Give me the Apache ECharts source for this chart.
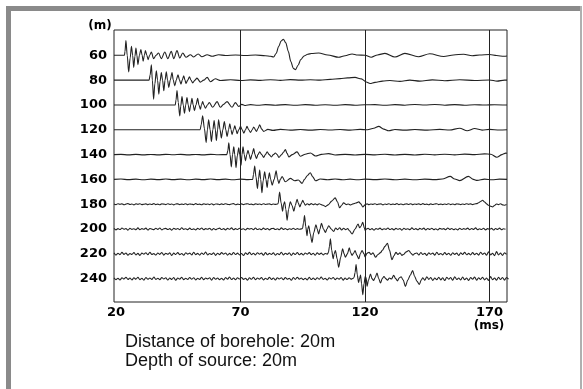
<!DOCTYPE html>
<html><head><meta charset="utf-8">
<script src="https://cdn.jsdelivr.net/npm/echarts@6/dist/echarts.min.js"></script>
<style>html,body{margin:0;padding:0;background:#fff}#c{width:583px;height:389px}</style>
</head><body><div id="c"></div>
<script>
// ---- axis values ----
const depths = [60, 80, 100, 120, 140, 160, 180, 200, 220, 240];
const timeTicks = [20, 70, 120, 170];
const markTimes = [70, 120, 170];
const timeMin = 19.2, timeMax = 177;
const depthMin = 39.6, depthMax = 258.8;

// ---- traces: [time ms, deflection (m, upward positive)] ----
const trace60 = [[19.2,0],[23.4,0],[23.6,3],[24.0,11.8],[24.5,0],[25.1,-13.4],[25.7,-2],[26.2,7.3],[26.7,0],[27.1,-9.7],[27.6,-1],[28.0,5.9],[28.4,0],[28.8,-7.5],[29.4,0],[30.0,4.6],[30.5,0],[30.9,-4.8],[31.4,0],[31.8,3.8],[32.4,0],[32.9,-3.5],[33.5,0],[34.2,2.7],[35.1,-2.7],[36.1,0],[37.1,1.9],[38.2,-2.7],[39.6,2.7],[40.8,-2.7],[42.2,3.2],[43.2,-2.7],[44.5,3.8],[45.6,-2.2],[46.8,1.9],[48.1,-1.6],[49.9,0.5],[51.2,-1.3],[53.0,1.1],[54.5,-1.1],[56.6,0.5],[58.6,-0.8],[61.2,0.5],[64,-0.2],[68,0.2],[72,-0.1],[76,0.2],[80,-0.3],[82.0,-0.8],[83.3,-1.3],[84.3,1.5],[85.3,7],[86.3,11.5],[87.2,13],[88.2,10],[89.2,3],[90.2,-5],[91.2,-10.5],[92.1,-11.5],[93.1,-8],[94.2,-3.5],[95.5,-0.5],[97,0.8],[98.5,1.5],[101.4,1.9],[105,0.3],[109.4,-1.6],[112,-0.3],[114.8,1.1],[117,0.2],[120,0.1],[122.5,-1.5],[125,0.3],[128,1.6],[132,-1.4],[136,1.6],[141.4,-1.2],[146,1.2],[151.6,-1.0],[155.5,0.3],[159.6,0.9],[163,-0.4],[166,0.3],[170,0.6],[172.8,-0.2],[175.8,-0.8],[177,-0.5]];

const trace80 = [[19.2,0],[33.3,0],[33.7,4],[34.2,12.4],[34.6,0],[35.1,-15.3],[35.6,-3],[36.2,7.5],[36.7,0],[37.2,-11.3],[37.7,-1],[38.2,6.2],[38.7,0],[39.2,-8.6],[39.7,0],[40.2,6.7],[40.7,0],[41.2,-5.9],[41.8,0],[42.5,6.2],[43.0,0],[43.6,-4.6],[44.2,0],[44.9,4.3],[45.5,0],[46.1,-3.2],[46.6,0],[47.2,3.5],[47.7,0],[48.1,-2.7],[48.8,0],[49.5,2.7],[50.1,0],[50.8,-2.2],[51.7,0],[52.5,1.6],[53.9,-1.6],[55.2,0],[56.6,2.2],[57.9,-1.3],[59.9,1.1],[62,-0.3],[66,0.3],[70,-0.3],[74,0.2],[78,-0.2],[82,0.3],[86,-0.2],[90,0.4],[94,0],[98,0.3],[102,0],[106,0.6],[110,1.2],[113,1.8],[116,2.2],[118.5,1.0],[120.5,-1.5],[122,-2.7],[124,-1.8],[127,-0.8],[130,-0.3],[134,-1],[138,0],[142,-0.8],[147,0.2],[152,-0.5],[158,0.3],[164,-0.3],[170,0.1],[173,-0.8],[176,0],[177,0]];

const trace100 = [[19.2,0],[43.8,0],[44.1,4],[44.5,11.6],[45.0,2],[45.6,-8.9],[46.0,-1],[46.5,6.7],[47.0,0],[47.5,-6.7],[48.0,0],[48.5,5.9],[49.0,0],[49.5,-5.4],[50.0,0],[50.5,5.4],[51.0,0],[51.5,-4.6],[52.1,0],[52.8,5.4],[53.3,0],[53.9,-3.5],[54.3,0],[54.8,2.7],[55.3,0],[55.9,-2.7],[56.7,0],[57.5,1.9],[58.8,-1.9],[60.6,2.7],[61.9,-1.9],[63.2,0.5],[64.6,2.7],[66.6,-1.9],[67.9,1.9],[69.3,-1.3],[70.5,0.5],[72,-0.4],[74,0.3],[77,-0.3],[80,0.3],[84,-0.2],[88,0.3],[92,-0.3],[96,0.3],[100,-0.2],[104,0.2],[108,-0.3],[112,0.3],[116,-0.2],[120,0.1],[124,0.3],[128,-0.3],[132,0.3],[136,-0.2],[140,0.4],[144,0],[148,0.4],[152,-0.2],[156,0.3],[160,-0.2],[164,0.2],[168,-0.1],[172,0.2],[177,0]];

const trace120 = [[19.2,0],[53.8,0],[54.2,4],[54.8,11.3],[55.5,1],[56.2,-10.2],[56.7,0],[57.2,8.1],[57.8,0],[58.3,-9.4],[58.9,0],[59.4,7.5],[59.9,0],[60.3,-8.6],[60.8,0],[61.2,8.1],[61.8,0],[62.3,-6.7],[62.9,0],[63.5,6.7],[64.1,0],[64.6,-5.4],[65.2,0],[65.7,4.8],[66.2,0],[66.6,-4.0],[67.2,0],[67.7,3.2],[68.2,0],[68.6,-3.2],[69.3,0],[70,2.7],[70.7,0],[71.3,-2.7],[72.0,0],[72.6,2.7],[73.3,0],[74,-2.2],[74.7,0],[75.3,2.2],[76.4,-1.3],[77.0,1],[77.7,4.0],[78.5,0.5],[79.3,-1.3],[81,0.3],[83,-0.5],[86,0.3],[90,-0.3],[94,0.2],[98,-0.3],[102,0.2],[106,-0.2],[110,0.2],[114,-0.3],[118,0.3],[121,0],[123.5,1.2],[125.5,2.7],[127.5,0.5],[129.5,-0.8],[132,0.2],[136,-0.3],[140,0.2],[145,-0.3],[150,0.3],[154,-0.2],[158,1.2],[161,-0.8],[164,1.0],[167,-0.3],[170,0.3],[174,-0.2],[177,0]];

const trace140 = [[19.2,0],[22,0.2],[25,-0.2],[28,0.2],[31,-0.2],[34,0.1],[37,-0.2],[40,0.2],[43,-0.1],[46,0.2],[49,-0.2],[52,0.1],[55,-0.2],[58,0.2],[61,-0.1],[64.5,0],[64.9,3],[65.3,9.4],[65.8,0],[66.3,-9.9],[66.8,0],[67.3,6.2],[67.7,0],[68.2,-10.5],[68.7,-1],[69.3,5.4],[69.7,0],[70.2,-8.6],[70.6,0],[71.0,6.2],[71.5,0],[72.0,-5.1],[72.5,0],[73.0,3.5],[73.5,0],[74.0,-4.0],[74.6,0],[75.3,4.8],[75.8,0],[76.4,-3.2],[77.0,0],[77.7,2.2],[78.5,0],[79.3,-2.4],[80.0,0],[80.7,2.2],[81.5,0],[82.4,-1.9],[83.2,0],[84,1.3],[84.7,0],[85.4,-2.4],[86.5,0],[87.3,2],[88.0,4.0],[88.7,1],[89.4,-1.9],[90.8,0],[92.7,2.2],[94.0,-1.3],[96,0.3],[98.1,1.3],[100.1,-1.1],[102.5,0.2],[105.4,0.8],[108,-0.3],[112,0.2],[116,-0.3],[120,0.2],[124,-0.2],[128,0.3],[132,-0.3],[136,0.2],[140,-0.3],[144,0.3],[148,-0.2],[152,0.3],[156,-0.2],[160,0.4],[164,0],[168,0.6],[170.5,0.3],[172.9,-2.2],[175,0],[176.5,1.2],[177,1]];

const trace160 = [[19.2,0],[22,0.3],[25,-0.2],[28,0.2],[31,-0.3],[34,0.2],[37,-0.2],[40,0.3],[43,-0.2],[46,0.2],[49,-0.3],[52,0.2],[55,-0.2],[58,0.3],[61,-0.2],[64,0.2],[67,-0.3],[70,0.2],[73,-0.2],[74.9,0],[75.2,4],[75.7,10.8],[76.2,2],[76.8,-7.3],[77.2,0],[77.7,7.5],[78.1,0],[78.6,-10.8],[79.1,-1],[79.7,6.2],[80.2,0],[80.7,-6.5],[81.1,0],[81.6,5.4],[82.1,0],[82.7,-4.6],[83.5,0],[84.3,7.0],[84.9,0],[85.4,-3.2],[86.0,0],[86.7,2.2],[88.0,-1.9],[90.0,0.8],[91.8,-1.1],[93.2,-0.5],[94.7,-3.2],[95.7,0],[96.8,3],[98.0,5.4],[99.0,2],[100.1,-1.1],[102,0.3],[105,-0.3],[108,0.3],[111,-0.3],[114,0.2],[117,-0.3],[120,0.2],[124,-0.2],[128,0.3],[132,-0.3],[136,0.2],[140,-0.3],[144,0.2],[148,-0.2],[151,0.3],[154.2,2.4],[156,0.3],[158,-1.0],[161.5,2.4],[163.5,0],[165,-0.8],[168,0.2],[171,-0.3],[174,0.2],[177,0]];

// noisy traces: pre-arrival noise (from timeMin, every noiseStep ms), arrival, coda noise
const noiseStep = 0.8;
const pre180 = [0.2,-0.3,0.4,-0.1,0.3,-0.4,0.1,0.5,-0.2,0.2,-0.5,0.3,-0.1,0.4,-0.3,0.0,0.3,-0.4,0.2,-0.2,0.5,-0.3,0.1,-0.4,0.3,0.1,-0.3,0.4,-0.2,0.2,-0.5,0.2,0.3,-0.3,0.1,-0.2,0.4,-0.4,0.2,0.0,-0.3,0.5,-0.2,0.1,-0.4,0.3,-0.1,0.2,-0.3,0.4,-0.5,0.2,0.1,-0.3,0.3,-0.2,0.4,-0.1,-0.3,0.2,0.5,-0.4,0.1,-0.2,0.3,-0.3,0.2,0.4,-0.2,0.1,-0.4,0.3,-0.1,0.2,-0.3,0.4,-0.2,0.1,0.3,-0.3,0.2,-0.1,0.2];
const sig180 = [[85.1,0.5],[85.7,9.9],[86.3,1],[86.9,-5.6],[87.3,0],[87.7,1.9],[88.2,-4],[88.7,-12.9],[89.3,-4],[90.0,1.9],[90.7,-1],[91.4,-5.6],[92.0,-1],[92.7,4.0],[93.2,1],[93.8,-2.2],[94.4,0.5],[95.0,3.2],[95.5,1],[96.0,-0.8],[96.8,0.4],[97.6,-0.5],[98.4,0.5],[99.2,-0.4],[100,0.3],[100.8,-0.5],[101.6,0.4],[102.4,-0.3],[103.2,-0.8],[104.1,-1.9],[105.2,-0.5],[106.6,2.5],[108.0,5.1],[108.9,2],[109.8,-2.9],[110.6,-0.8],[111.4,1.1],[112.4,-0.3],[113.3,0.2],[114.2,-0.6],[115.2,0.3],[116.3,1.0],[117.5,1.9],[118.3,0.3],[119.1,-2.2],[120.0,-0.5]];
const post180Start = 120.8;
const post180 = [0.3,-0.4,0.2,-0.1,0.4,-0.3,0.1,0.3,-0.5,0.2,-0.2,0.4,-0.3,0.1,-0.2,0.5,-0.3,0.2,-0.4,0.1,0.3,-0.2,0.4,-0.4,0.2,-0.1,0.3,-0.3,0.5,-0.2,0.1,-0.4,0.3,-0.2,0.2,0.4,-0.3,0.1,-0.3,0.2,-0.2,0.4,-0.3,0.2,-0.4,0.3,0.1,-0.3,0.2,-0.2,0.4,-0.1,0.3,-0.3,0.2,0.5,1.2,2.2,3.2,1.8,0.3,-0.8,-1.6,-2.2,-1.0,0.2,-0.3,0.4,-0.5,-0.8,-0.3];

const pre200 = [0.5,-0.7,0.3,-0.4,0.8,-0.2,0.4,-0.9,0.6,-0.3,0.2,-0.6,0.9,-0.5,0.3,-0.2,0.7,-0.8,0.4,-0.1,-0.5,0.6,-0.3,0.8,-0.7,0.2,0.5,-0.4,0.3,-0.9,0.6,-0.2,0.4,-0.6,1.0,-0.3,0.2,-0.5,0.7,-0.4,0.1,-0.7,0.5,-0.3,0.8,-0.6,0.3,-0.2,0.6,-0.8,0.4,-0.5,0.2,0.7,-0.4,0.3,-0.7,0.5,-0.2,0.9,-0.6,0.3,-0.4,0.6,-0.3,0.2,-0.8,0.5,-0.1,0.4,-0.6,0.8,-0.4,0.2,-0.5,0.7,-0.3,0.4,-0.7,0.3,0.5,-0.4,0.2,-0.6,0.9,-0.3,0.4,-0.5,0.2,-0.3,0.6,-0.4,0.3,-0.2,0.1];
const sig200 = [[94.9,0.5],[95.3,5],[95.7,10.8],[96.2,2],[96.7,-5.4],[97.0,0],[97.4,2.7],[98.0,-4],[98.7,-10.8],[99.4,-3],[100.3,3.5],[100.8,0],[101.4,-4.0],[101.9,0],[102.5,4.6],[103.3,0],[104.1,-2.7],[104.7,0],[105.4,2.7],[106.4,0],[107.4,-1.9],[108.2,0.8],[109,-0.5],[109.8,1.0],[110.6,-0.8],[111.4,0.6],[112.2,-0.5],[113.0,0.3],[113.8,-1.5],[114.8,-4.0],[116.0,0],[117.2,4.0],[117.8,1],[118.3,2],[119.1,5.4],[119.7,1],[120.1,-1.3],[120.5,0]];
const post200Start = 121.2;
const post200 = [0.6,-0.5,0.3,-0.8,0.4,-0.2,0.7,-0.6,0.2,-0.3,0.8,-0.4,0.3,-0.7,0.5,-0.2,0.4,-0.9,0.6,-0.3,0.2,-0.5,0.9,-0.4,0.3,-0.6,0.5,-0.2,0.7,-0.7,0.4,-0.3,0.6,-0.5,0.2,-0.8,0.5,-0.1,0.3,-0.6,0.8,-0.3,0.4,-0.5,0.2,-0.7,0.6,-0.4,0.3,-0.2,0.7,-0.6,0.4,-0.3,0.9,-0.5,0.2,-0.4,0.6,-0.7,0.3,-0.2,0.5,-0.8,0.4,-0.3,0.7,-0.5,0.2,-0.2];

const pre220 = [0.8,-1.0,0.5,-0.6,1.2,-0.4,0.7,-1.1,0.3,-0.5,1.0,-0.8,0.4,-1.2,0.6,-0.3,0.9,-0.7,1.3,-0.5,0.2,-0.9,0.7,-0.4,1.1,-1.0,0.5,-0.3,0.8,-1.3,0.6,-0.5,1.0,-0.7,0.3,-1.1,0.9,-0.2,0.6,-0.8,1.2,-0.6,0.4,-1.0,0.7,-0.5,1.4,-0.9,0.3,-0.4,0.8,-1.2,0.5,-0.6,1.0,-0.3,0.7,-1.0,0.4,-0.7,1.1,-0.5,0.6,-0.9,0.3,-1.3,0.8,-0.4,1.2,-0.6,0.5,-0.8,0.9,-0.3,0.6,-1.1,1.0,-0.7,0.4,-0.5,0.8,-1.0,0.3,-0.6,1.3,-0.8,0.5,-0.4,0.9,-1.2,0.6,-0.5,1.1,-0.7,0.4,-0.9,0.7,-0.3,1.0,-0.6,0.5,-1.1,0.8,-0.4,0.6,-0.8,0.3,-0.2];
const sig220 = [[105.3,1],[105.7,6],[106.1,12.1],[106.6,3],[107.2,-4.0],[107.6,0],[108.1,2.7],[108.8,-4],[109.4,-10.8],[110.2,-3],[111.0,4.0],[111.6,0],[112.1,-2.7],[112.9,0],[113.7,4.8],[114.2,1],[114.8,-1.3],[115.4,0.5],[116.0,2.7],[116.7,-1],[117.5,-4.0],[118.1,0],[118.8,2.7],[119.6,0],[120.0,-2.5],[120.8,0.5],[121.6,1.3],[122.4,-0.5],[123.2,0.8],[124.2,-2.7],[125.2,-0.5],[126.2,1],[127,3],[128.0,6],[129.0,8.6],[129.8,3],[130.8,-4.8],[131.6,-1.5],[132.4,1.2],[133.2,-0.5],[134.0,0.8],[134.8,-1.2],[135.6,-0.3],[136.4,1.5],[137.6,2.7],[138.4,0.5],[139.2,-1.0],[140.0,0.3]];
const post220Start = 140.8;
const post220 = [0.7,-0.9,1.1,-0.5,0.4,-1.2,0.8,-0.3,0.6,-1.0,1.2,-0.6,0.3,-0.8,1.0,-0.7,0.5,-1.1,0.9,-0.4,0.6,-1.3,0.8,-0.5,1.2,-0.7,0.4,-0.9,1.0,-0.6,0.5,-1.0,1.3,-0.4,0.7,-1.1,1.6,-0.8,0.5,-1.4,1.8,-0.9,0.6,-1.2,0.8,-0.5];

const pre240 = [0.6,-0.9,0.4,-1.1,0.8,-0.3,1.2,-0.6,0.5,-1.0,0.7,-0.4,1.1,-0.8,0.3,-1.2,0.9,-0.5,0.6,-0.7,1.3,-0.6,0.4,-0.9,1.0,-0.3,0.7,-1.1,0.5,-0.6,0.9,-1.3,0.6,-0.4,1.2,-0.8,0.3,-0.7,1.0,-0.5,0.8,-1.0,0.4,-0.6,1.1,-0.9,0.5,-0.3,0.7,-1.2,1.0,-0.5,0.6,-0.8,0.3,-1.1,0.9,-0.4,1.3,-0.7,0.5,-0.9,0.8,-0.3,1.0,-0.6,0.4,-1.2,0.7,-0.5,1.1,-0.8,0.6,-0.4,0.9,-1.0,0.3,-0.7,1.2,-0.6,0.5,-1.1,0.8,-0.3,0.7,-0.9,1.0,-0.5,0.4,-1.3,0.9,-0.6,1.2,-0.4,0.6,-0.8,0.3,-1.0,1.1,-0.7,0.5,-0.9,0.8,-0.5,1.3,-0.6,0.4,-1.1,0.7,-0.3,1.0,-0.8,0.6,-0.4,0.9,-1.2,0.5,-0.7,0.8,-0.4,0.3];
const sig240 = [[115.6,1],[116.0,5],[116.4,11.3],[116.9,3],[117.4,-3],[117.8,0],[118.2,3],[118.6,-4],[119.1,-12.9],[119.6,-4],[120.1,2],[120.5,0],[120.8,-6.2],[121.4,-1],[122.2,3.8],[122.8,0],[123.4,-1.5],[124.1,1],[124.8,4.6],[125.5,0],[126.2,-3.5],[126.9,0],[127.6,1.8],[128.3,0],[129,-1.2],[129.8,0.5],[130.6,-0.3],[131.5,2.7],[132.3,0],[133.0,-1.8],[133.7,0.5],[134.5,1.5],[135.3,-1],[136.2,-6.2],[137.2,-1],[138.2,3],[139.1,6.5],[139.9,2],[140.8,-2],[141.8,-4.6],[142.6,-1]];
const post240Start = 143.2;
const post240 = [0.8,-1.2,1.5,-0.6,0.9,-1.4,0.5,-0.8,1.2,-1.0,0.7,-1.5,1.1,-0.4,0.9,-1.3,1.6,-0.7,0.5,-1.1,1.3,-0.9,0.6,-1.4,1.0,-0.5,1.4,-1.2,0.8,-0.6,1.2,-1.0,0.5,-1.5,1.7,-0.8,0.6,-1.3,1.1,-0.7,0.9,-1.2,1.0,-0.4];

const bottomText = ['Distance of borehole: 20m', 'Depth of source: 20m'];

// ---- build series data ----
function buildTrace(depth, pre, sig, postStart, post) {
  const pts = [];
  if (pre) pre.forEach((a, i) => pts.push([+(timeMin + i * noiseStep).toFixed(2), depth - a]));
  sig.forEach(p => pts.push([p[0], depth - p[1]]));
  if (post) post.forEach((a, i) => pts.push([+(postStart + i * noiseStep).toFixed(2), depth - a]));
  return pts;
}
const traceData = [
  buildTrace(60, null, trace60),
  buildTrace(80, null, trace80),
  buildTrace(100, null, trace100),
  buildTrace(120, null, trace120),
  buildTrace(140, null, trace140),
  buildTrace(160, null, trace160),
  buildTrace(180, pre180, sig180, post180Start, post180),
  buildTrace(200, pre200, sig200, post200Start, post200),
  buildTrace(220, pre220, sig220, post220Start, post220),
  buildTrace(240, pre240, sig240, post240Start, post240)
];

const chart = echarts.init(document.getElementById('c'), null, {renderer: 'canvas'});
const axisFont = {fontFamily: 'DejaVu Sans', fontWeight: 'bold', fontSize: 13, color: '#000'};
const series = traceData.map((d, i) => ({
  type: 'line',
  data: d,
  showSymbol: false,
  smooth: 0.3,
  smoothMonotone: 'x',
  lineStyle: {color: '#222', width: 1.1},
  silent: true,
  z: 3,
  markLine: i === 0 ? {
    silent: true, symbol: 'none', label: {show: false},
    lineStyle: {color: '#222', width: 1, type: 'solid'},
    data: markTimes.map(t => ({xAxis: t}))
  } : undefined
}));

chart.setOption({
  animation: false,
  backgroundColor: '#fff',
  grid: {left: 114, top: 30, right: 76, bottom: 87, show: true, borderColor: '#222', borderWidth: 1, backgroundColor: 'transparent', outerBoundsMode: 'none'},
  xAxis: {
    type: 'value', min: timeMin, max: timeMax,
    axisLine: {show: false}, axisTick: {show: false}, splitLine: {show: false},
    axisLabel: Object.assign({customValues: timeTicks, margin: 4}, axisFont)
  },
  yAxis: {
    type: 'value', inverse: true, min: depthMin, max: depthMax,
    axisLine: {show: false}, axisTick: {show: false}, splitLine: {show: false},
    axisLabel: Object.assign({customValues: depths, margin: 7}, axisFont)
  },
  graphic: [
    {type: 'rect', shape: {x: 6, y: 6, width: 575, height: 5}, style: {fill: '#8a8a8a'}, silent: true},
    {type: 'rect', shape: {x: 6, y: 6, width: 5, height: 383}, style: {fill: '#8a8a8a'}, silent: true},
    {type: 'rect', shape: {x: 580, y: 6, width: 2, height: 383}, style: {fill: '#b0b0b0'}, silent: true},
    {type: 'text', x: 100, y: 26, style: {text: '(m)', font: 'bold 12px "DejaVu Sans"', fill: '#000', align: 'center', verticalAlign: 'middle'}, silent: true},
    {type: 'text', x: 489, y: 326, style: {text: '(ms)', font: 'bold 12px "DejaVu Sans"', fill: '#000', align: 'center', verticalAlign: 'middle'}, silent: true},
    {type: 'text', x: 125, y: 342, style: {text: bottomText[0], font: '18px "Liberation Sans", Arial, sans-serif', fill: '#111', align: 'left', verticalAlign: 'middle'}, silent: true},
    {type: 'text', x: 125, y: 361, style: {text: bottomText[1], font: '18px "Liberation Sans", Arial, sans-serif', fill: '#111', align: 'left', verticalAlign: 'middle'}, silent: true}
  ],
  series: series
});
</script>
</body></html>
